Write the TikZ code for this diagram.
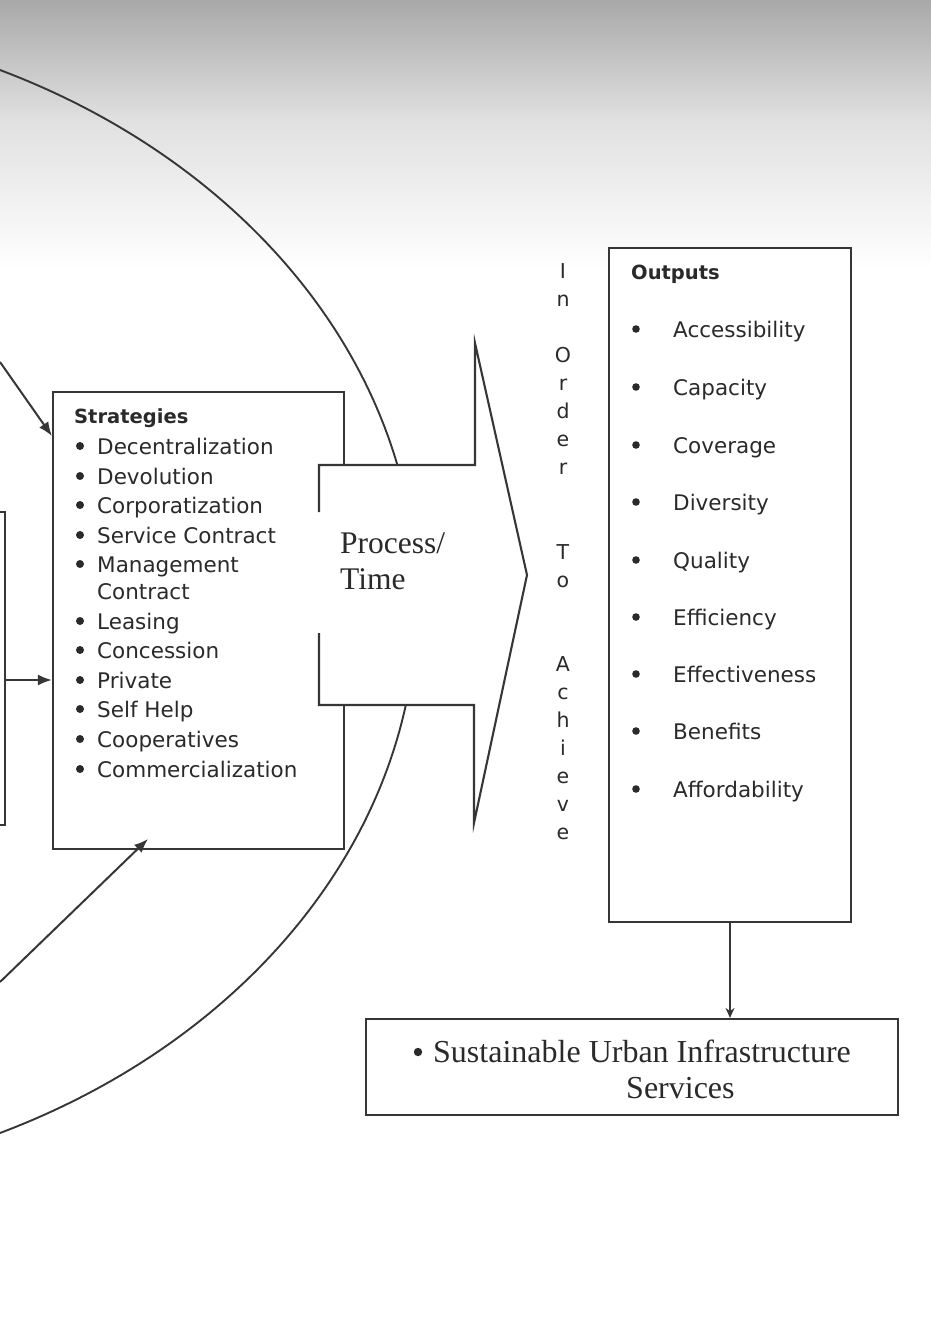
\documentclass[tikz,border=0pt]{standalone}
\usepackage{fontspec}
\setmainfont{Liberation Serif}
\newfontfamily\dvs{DejaVu Sans}
\usetikzlibrary{arrows.meta}
\definecolor{ln}{HTML}{363636}
\definecolor{tx}{HTML}{2A2A2A}
\begin{document}
\begin{tikzpicture}[x=1pt,y=-1pt,
  boxstyle/.style={draw=ln, line width=2.2pt, fill=white, rectangle, inner sep=0pt},
  sitem/.style={font=\dvs\fontsize{21.5}{25}\selectfont, text=tx, anchor=base west, inner sep=0pt},
  shead/.style={font=\dvs\bfseries\fontsize{19.5}{24}\selectfont, text=tx, anchor=base west, inner sep=0pt},
  vlet/.style={font=\dvs\fontsize{20.5}{24}\selectfont, text=tx, anchor=base, inner sep=0pt},
  serift/.style={font=\fontsize{31.5}{36}\selectfont, text=tx, anchor=base west, inner sep=0pt},
  arr/.style={draw=ln, line width=2pt, -{Latex[length=14pt,width=11pt]}},
  dotb/.style={fill=tx}
]
\useasboundingbox (0,0) rectangle (931,1317);
\begin{scope}
\clip (0,0) rectangle (931,1317);
\shade[top color=black!34, bottom color=black!12] (0,0) rectangle (931,120);
\shade[top color=black!12, bottom color=white] (0,119.5) rectangle (931,270);
% big ellipse
\draw[ln, line width=1.9pt] (-300,601.5) ellipse [x radius=717pt, y radius=585pt];
% partial left box
\node[boxstyle, minimum width=200pt, minimum height=313pt] (leftbox) at (-95,668.5) {};
% strategies box
\node[boxstyle, minimum width=291pt, minimum height=457pt] (strat) at (198.5,620.5) {};
% outputs box
\node[boxstyle, minimum width=242pt, minimum height=674pt] (outp) at (730,585) {};
% bottom box
\node[boxstyle, minimum width=532pt, minimum height=96pt] (sust) at (632,1067) {};
% big process arrow
\fill[white] (319,465) -- (475,465) -- (475,343) -- (527,575) -- (474,823) -- (474,705) -- (319,705) -- cycle;
\draw[ln, line width=2.1pt, line join=miter] (319,512) -- (319,465) -- (475,465) -- (475,343) -- (527,575) -- (474,823) -- (474,705) -- (319,705) -- (319,633);
\node[serift] (proc) at (340,553.5) {Process/};
\node[serift] (time) at (340,589.5) {Time};
% strategies text
\node[shead] (sh) at (74,423) {Strategies};
\foreach \t/\y/\b [count=\i] in {Decentralization/446/1, Devolution/476/1, Corporatization/505/1, Service Contract/535/1, Management/564/1, Contract/591/0, Leasing/621/1, Concession/650/1, Private/680/1, Self Help/709/1, Cooperatives/739/1, Commercialization/769/1}{
  \node[sitem] (st\i) at (97,\y+8) {\t};
  \ifnum\b=1 \fill[dotb] (80,\y) circle (4pt);\fi
}
% outputs text
\node[shead] (oh) at (631,279) {Outputs};
\foreach \t/\y [count=\i] in {Accessibility/329, Capacity/387, Coverage/445, Diversity/502, Quality/560, Efficiency/617, Effectiveness/674, Benefits/731, Affordability/789}{
  \node[sitem] (ot\i) at (673,\y+8) {\t};
  \fill[dotb] (636,\y) circle (3.8pt);
}
% vertical letters
\foreach \l/\k in {I/0, n/1, O/3, r/4, d/5, e/6, r/7, T/10, o/11, A/14, c/15, h/16, i/17, e/18, v/19, e/20}{
  \node[vlet] (v\k) at (563,278.5+28.05*\k) {\l};
}
% bottom text
\fill[dotb] (418,1052) circle (4.2pt);
\node[serift, font=\fontsize{32}{36}\selectfont] (s1) at (433,1062) {Sustainable Urban Infrastructure};
\node[serift, font=\fontsize{32}{36}\selectfont] (s2) at (626,1098) {Services};
% connectors
\coordinate (a1s) at (0,362);
\coordinate (a3s) at (0,982);
\draw[arr] (a1s) -- (strat.west |- 0,436);
\draw[arr] (leftbox.east |- 0,680) -- (strat.west |- 0,680);
\draw[arr] (a3s) -- (148,839);
\draw[draw=ln, line width=1.8pt, -{Stealth[length=10pt,width=9pt]}] (outp.south) -- (outp.south |- sust.north);
\end{scope}
\end{tikzpicture}
\end{document}
